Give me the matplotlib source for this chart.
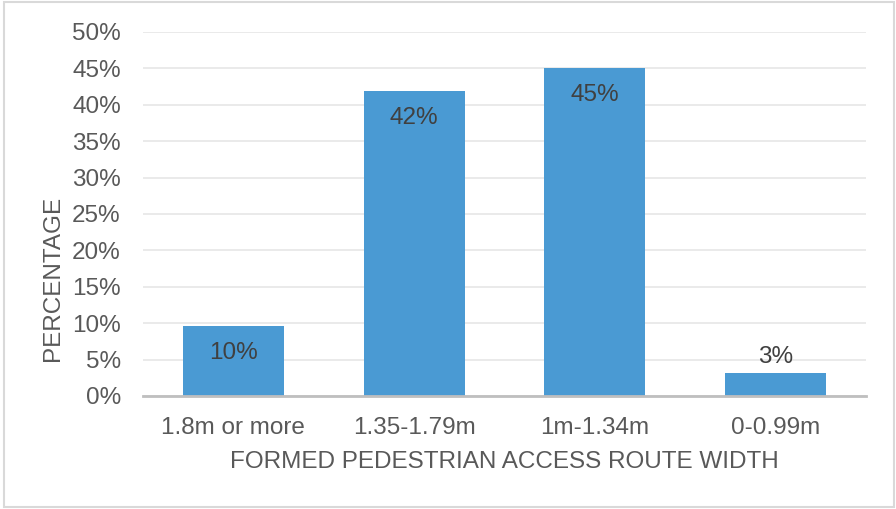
import matplotlib.pyplot as plt
from matplotlib.patches import Rectangle
from matplotlib.ticker import FuncFormatter

categories = ["1.8m or more", "1.35-1.79m", "1m-1.34m", "0-0.99m"]
values = [9.6, 41.9, 45.1, 3.2]
labels = ["10%", "42%", "45%", "3%"]
label_inside = [True, True, True, False]

plt.rcParams['font.family'] = ['Liberation Sans', 'DejaVu Sans']
fs = 17.5

fig = plt.figure(figsize=(8.96, 5.09), dpi=100)
ax = fig.add_axes([143 / 896, 1 - 396 / 509, (866 - 143) / 896, (396 - 32) / 509])

# outer frame
fig.patches.append(Rectangle((4 / 896, 2 / 509), 890 / 896, 505 / 509,
                             transform=fig.transFigure, fill=False,
                             edgecolor='#d9d9d9', linewidth=1.5))

x = range(len(categories))
bars = ax.bar(x, values, width=0.56, color='#4a9ad3', zorder=3)

for b, lab, inside in zip(bars, labels, label_inside):
    top = b.get_height()
    off = -19.5 if inside else 11
    ax.annotate(lab, (b.get_x() + b.get_width() / 2, top), xytext=(0, off),
                textcoords='offset points', ha='center', va='center',
                fontsize=fs, color='#404040', zorder=4)

ax.set_xlim(-0.5, len(categories) - 0.5)
ax.set_ylim(0, 50)
ax.set_yticks(range(0, 51, 5))
ax.yaxis.set_major_formatter(FuncFormatter(lambda v, p: f"{int(v)}%"))
ax.set_xticks(list(x))
ax.set_xticklabels(categories)

ax.grid(axis='y', color='#e6e6e6', linewidth=1.2, zorder=0)
for s in ['top', 'right', 'left']:
    ax.spines[s].set_visible(False)
ax.spines['bottom'].set_color('#bfbfbf')
ax.spines['bottom'].set_linewidth(2)
ax.spines['bottom'].set_zorder(5)

ax.tick_params(axis='y', length=0, pad=16, labelsize=fs, labelcolor='#595959')
ax.tick_params(axis='x', length=0, pad=15, labelsize=fs, labelcolor='#595959')

# label sits below the axis centre in the original
ax.set_ylabel("PERCENTAGE", fontsize=fs, color='#595959', labelpad=6, y=0.324)
ax.set_xlabel("FORMED PEDESTRIAN ACCESS ROUTE WIDTH", fontsize=fs,
              color='#595959', labelpad=9)

fig.savefig("out.png", dpi=100)
